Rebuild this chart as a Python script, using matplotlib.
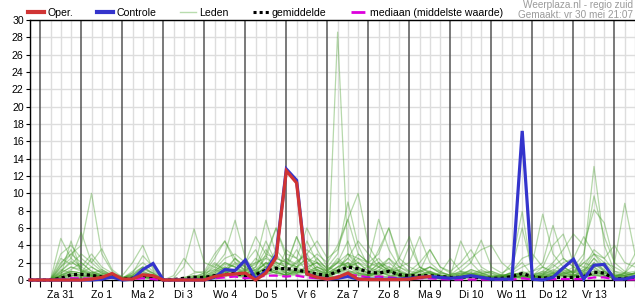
import numpy as np
import matplotlib
matplotlib.use("Agg")
import matplotlib.pyplot as plt
from matplotlib.lines import Line2D
from matplotlib.ticker import MultipleLocator

plt.rcParams["font.family"] = ["Liberation Sans", "DejaVu Sans"]

# 6-hourly steps starting vr 30 mei 18:00 (hours since start)
STEP_H = 6
N_STEPS = 60
hours = np.arange(N_STEPS) * STEP_H

day_labels = ["Za 31", "Zo 1", "Ma 2", "Di 3", "Wo 4", "Do 5", "Vr 6",
              "Za 7", "Zo 8", "Ma 9", "Di 10", "Wo 11", "Do 12", "Vr 13"]

# neerslag (mm per 6 uur), operationele run loopt tot ma 9
oper = [0, 0, 0, 0, 0, 0, 0.1, 0.3, 0.75, 0.1, 0.1, 0.6, 0.5, 0, 0, 0, 0,
        0, 0.4, 0.6, 0.7, 0.8, 0, 0.8, 2.6, 12.6, 11.2, 0.7, 0.3, 0.1,
        0.3, 0.8, 0.1, 0.05, 0.05, 0.05, 0.05, 0.1, 0.3, 0.4]

controle = [0, 0, 0, 0, 0, 0, 0, 0.1, 0.35, 0, 0.1, 1.2, 1.9, 0, 0, 0, 0,
            0, 0.3, 1.2, 1.1, 2.3, 0.1, 1.0, 2.9, 12.8, 11.5, 0.7, 0.3, 0.1,
            0.2, 0.4, 0.1, 0.1, 0.1, 0.1, 0.1, 0.2, 0.3, 0.4, 0.3, 0.2, 0.3,
            0.5, 0.3, 0.1, 0.1, 0.1, 17.2, 0.1, 0.0, 0.3, 1.4, 2.4, 0.1, 1.7,
            1.8, 0.1, 0.1, 0.4]

gemiddelde = [0, 0, 0, 0.2, 0.6, 0.65, 0.55, 0.35, 0.5, 0.1, 0.2, 0.5, 0.3,
              0.0, 0.05, 0.2, 0.3, 0.3, 0.5, 0.6, 0.8, 0.5, 0.6, 1.15, 1.35,
              1.3, 1.2, 0.9, 0.7, 0.5, 1.0, 1.5, 1.3, 0.9, 0.8, 1.0, 0.6, 0.5,
              0.5, 0.5, 0.4, 0.3, 0.3, 0.4, 0.2, 0.2, 0.2, 0.4, 0.75, 0.4, 0.2,
              0.3, 0.3, 0.3, 0.4, 0.9, 0.8, 0.1, 0.2, 0.2]

mediaan = [0, 0, 0, 0.05, 0.2, 0.2, 0.15, 0.1, 0.3, 0.05, 0.1, 0.2, 0.1, 0, 0,
           0, 0, 0.05, 0.2, 0.3, 0.4, 0.2, 0.3, 0.5, 0.5, 0.4, 0.5, 0.3, 0.2,
           0.1, 0.4, 0.6, 0.5, 0.3, 0.4, 0.3, 0.2, 0.1, 0.2, 0.2, 0.1, 0.05,
           0.05, 0.05, 0.05, 0.05, 0.05, 0.05, 0.2, 0.05, 0.05, 0.1, 0.1, 0.1,
           0.1, 0.3, 0.3, 0.05, 0.05, 0.05]

leden = [
    [0, 0, 0, 2.0, 3.0, 4.0, 10.0, 3.0, 1.0, 0.2, 0.5, 1.5, 0.8, 0, 0, 0.2, 0.5, 0.3, 1.0, 2.0, 1.5, 0.8, 1.2, 2.5, 1.8, 1.0, 2.2, 3.0, 1.0, 0.5, 1.5, 2.0, 0.8, 0.3, 1.0, 0.5, 0.2, 0.1, 0.4, 0.3, 0.2, 0.1, 0.5, 0.8, 0.3, 0.2, 0.1, 0.3, 0.5, 0.2, 0.8, 0.5, 1.2, 0.6, 0.3, 0.8, 1.0, 0.2, 0.1, 0.3],
    [0, 0, 0, 4.8, 2.5, 1.5, 0.8, 1.0, 0.4, 0.1, 0.3, 0.8, 0.4, 0, 0, 0, 0.1, 0.5, 1.8, 1.2, 2.5, 1.0, 0.6, 1.5, 3.5, 2.0, 1.2, 0.8, 1.5, 1.0, 2.0, 4.5, 1.2, 0.5, 0.8, 1.5, 0.6, 0.3, 0.2, 0.5, 0.1, 0.3, 0.4, 0.2, 0.6, 0.1, 0.3, 1.0, 2.0, 0.5, 0.3, 0.4, 0.8, 1.5, 0.6, 2.0, 1.2, 0.4, 0.8, 0.5],
    [0, 0, 0, 1.5, 2.5, 5.5, 2.0, 3.6, 1.2, 0.3, 0.2, 0.5, 0.3, 0, 0, 0.1, 0.3, 0.8, 2.5, 4.5, 2.0, 1.5, 2.0, 6.9, 3.0, 1.2, 0.8, 1.5, 2.0, 0.5, 0.3, 1.0, 0.8, 0.5, 1.5, 2.5, 1.0, 0.2, 0.5, 0.8, 0.3, 0.2, 0.1, 0.3, 0.2, 0.1, 0.4, 0.6, 0.3, 0.5, 1.5, 0.8, 0.4, 0.3, 0.5, 1.0, 0.6, 0.1, 0.2, 0.4],
    [0, 0, 0, 3.0, 4.0, 2.5, 1.5, 0.8, 0.6, 0.5, 2.0, 4.0, 1.2, 0.1, 0, 0, 0.2, 0.3, 0.8, 1.5, 1.0, 2.0, 3.5, 1.2, 0.8, 3.5, 2.5, 1.0, 0.5, 0.3, 1.0, 3.0, 2.0, 1.5, 0.5, 0.3, 0.8, 0.5, 1.2, 0.4, 0.2, 0.4, 0.2, 0.5, 1.0, 0.8, 0.3, 0.2, 0.5, 0.3, 0.6, 1.8, 0.9, 0.5, 1.2, 3.0, 1.5, 0.6, 0.3, 0.8],
    [0, 0, 0, 0.5, 1.0, 0.8, 0.5, 0.3, 0.2, 0.1, 0.2, 0.3, 0.1, 0, 0.2, 1.5, 5.9, 2.0, 1.5, 3.0, 6.9, 2.5, 1.0, 2.0, 1.5, 0.8, 1.5, 2.5, 1.2, 0.6, 1.2, 2.5, 1.5, 0.8, 2.0, 1.0, 0.5, 0.3, 0.6, 1.0, 0.4, 0.2, 0.3, 0.8, 0.5, 0.3, 0.2, 0.4, 0.6, 0.4, 0.2, 0.5, 1.5, 0.8, 2.0, 1.5, 0.8, 0.3, 0.5, 0.2],
    [0, 0, 0, 0.8, 1.5, 1.0, 0.5, 0.4, 0.3, 0.1, 0.1, 0.2, 0.1, 0, 0, 0, 0.1, 0.2, 0.5, 0.8, 1.2, 0.5, 0.8, 1.5, 2.0, 1.5, 0.8, 1.0, 0.6, 0.4, 28.6, 3.0, 1.5, 0.6, 1.0, 0.5, 0.3, 0.4, 0.2, 0.3, 0.5, 0.2, 0.4, 0.3, 0.2, 0.1, 0.3, 0.5, 0.2, 0.2, 0.4, 0.3, 0.8, 0.5, 0.3, 0.6, 0.4, 0.2, 0.1, 0.2],
    [0, 0, 0, 1.0, 2.0, 1.5, 3.0, 1.5, 0.8, 0.2, 0.8, 2.8, 1.5, 0, 0, 0.3, 0.5, 0.4, 1.2, 0.8, 2.5, 1.5, 0.5, 3.0, 6.0, 2.5, 1.5, 2.0, 3.0, 2.0, 4.0, 7.0, 10.0, 4.0, 2.0, 1.5, 1.0, 0.6, 1.5, 0.8, 0.5, 0.3, 0.6, 0.4, 0.3, 0.2, 0.5, 0.3, 0.2, 0.6, 1.0, 0.8, 0.5, 0.3, 0.4, 0.6, 0.8, 0.5, 0.2, 0.3],
    [0, 0, 0, 0.5, 0.8, 0.6, 0.4, 0.6, 0.5, 0.2, 0.3, 0.6, 0.3, 0, 0, 0.1, 0.2, 0.5, 1.0, 2.0, 1.5, 0.6, 1.5, 4.5, 2.0, 1.8, 5.0, 2.5, 1.5, 1.0, 2.5, 1.5, 3.0, 2.0, 7.0, 3.5, 1.5, 0.8, 0.5, 1.0, 0.6, 0.3, 0.5, 1.2, 0.8, 0.4, 0.6, 2.0, 7.9, 0.5, 0.3, 0.8, 0.6, 0.4, 1.0, 1.5, 0.5, 0.3, 0.8, 0.4],
    [0, 0, 0, 0.3, 0.6, 0.4, 0.3, 0.5, 0.3, 0.1, 0.2, 0.4, 0.2, 0, 0, 0, 0.1, 0.3, 0.6, 1.5, 0.8, 1.0, 2.5, 1.5, 1.0, 0.5, 1.2, 4.5, 2.0, 1.0, 0.8, 1.5, 2.0, 1.0, 3.5, 6.0, 2.0, 1.0, 0.8, 0.5, 0.3, 0.2, 0.3, 0.5, 0.4, 0.3, 0.5, 0.8, 1.5, 2.0, 7.6, 3.0, 1.5, 0.8, 2.5, 13.1, 4.0, 1.0, 0.5, 0.8],
    [0, 0, 0, 1.2, 0.8, 0.5, 0.6, 0.8, 0.4, 0.1, 0.4, 1.0, 0.5, 0, 0, 0, 0, 0.2, 0.4, 0.6, 0.8, 0.5, 0.4, 1.0, 1.5, 0.8, 0.6, 0.9, 1.2, 0.8, 1.5, 2.0, 1.0, 0.5, 1.2, 0.8, 2.5, 5.0, 1.5, 0.8, 0.6, 0.4, 0.8, 0.6, 0.5, 0.3, 0.2, 0.5, 1.0, 0.6, 0.8, 1.5, 2.5, 1.5, 3.0, 9.7, 5.0, 2.0, 8.85, 3.0],
    [0, 0, 0, 0.6, 1.2, 2.0, 1.0, 0.5, 0.3, 0.1, 0.3, 0.6, 0.4, 0, 0, 0, 0.3, 0.6, 1.5, 1.0, 2.0, 1.0, 2.0, 2.5, 6.0, 3.0, 2.5, 6.0, 3.5, 1.5, 1.0, 2.0, 1.5, 0.8, 0.6, 1.0, 0.5, 0.3, 0.5, 0.3, 0.2, 0.5, 1.0, 0.6, 0.3, 0.2, 0.1, 0.2, 0.4, 0.3, 0.5, 0.6, 1.0, 0.6, 0.8, 2.0, 1.0, 0.4, 0.3, 0.5],
    [0, 0, 0, 2.5, 1.8, 3.0, 2.0, 1.0, 0.6, 0.3, 0.5, 0.8, 0.6, 0, 0, 0, 0.1, 0.3, 0.6, 1.2, 0.8, 1.2, 0.8, 2.0, 1.2, 1.5, 3.5, 1.5, 2.0, 1.5, 3.0, 9.0, 4.0, 1.5, 2.5, 1.2, 1.0, 4.0, 1.5, 1.0, 0.5, 0.3, 0.5, 0.4, 0.6, 1.0, 0.5, 0.3, 0.4, 0.3, 0.6, 1.2, 0.8, 0.5, 0.8, 1.0, 0.6, 0.3, 0.2, 0.4],
    [0, 0, 0, 0.3, 0.5, 0.6, 0.8, 0.5, 0.3, 0.2, 0.6, 1.5, 0.6, 0, 0, 0, 0.2, 0.4, 0.5, 0.8, 1.2, 0.8, 1.2, 1.8, 2.5, 2.0, 1.5, 1.0, 2.5, 1.2, 2.0, 1.5, 2.5, 1.5, 1.0, 2.5, 1.5, 2.0, 5.0, 2.0, 1.0, 0.5, 4.5, 2.0, 0.8, 0.5, 0.3, 0.6, 0.4, 0.3, 0.5, 0.4, 0.6, 1.2, 0.8, 0.5, 0.4, 0.2, 0.5, 0.3],
    [0, 0, 0, 1.8, 3.5, 1.0, 0.8, 1.2, 0.5, 0.2, 0.3, 0.6, 0.3, 0, 0, 0, 0.1, 0.2, 0.5, 0.6, 0.4, 0.6, 1.0, 0.8, 1.2, 0.8, 1.0, 1.5, 0.8, 0.5, 1.0, 1.8, 1.2, 1.5, 2.0, 1.0, 0.8, 0.5, 1.0, 1.5, 0.8, 0.6, 1.0, 2.0, 4.6, 1.5, 0.8, 1.5, 6.0, 1.0, 2.0, 6.3, 2.5, 1.5, 1.0, 2.5, 1.5, 0.5, 0.8, 1.0],
    [0, 0, 0, 0.4, 0.6, 0.3, 0.5, 0.4, 0.2, 0.1, 0.2, 0.3, 0.2, 0, 0, 0, 0, 0.2, 0.3, 0.6, 0.5, 0.4, 0.8, 1.2, 0.8, 0.6, 0.8, 1.0, 1.5, 0.8, 1.2, 1.0, 0.6, 0.4, 0.8, 1.2, 0.6, 0.3, 0.5, 0.4, 0.3, 0.2, 0.3, 0.6, 0.8, 1.0, 0.6, 0.4, 0.8, 0.5, 1.0, 2.0, 3.5, 5.3, 4.0, 8.1, 6.6, 2.0, 1.0, 0.6],
    [0, 0, 0, 1.0, 2.2, 1.2, 0.8, 0.6, 0.4, 0.2, 0.4, 1.0, 0.5, 0, 0, 0.2, 0.8, 1.0, 3.0, 4.5, 2.5, 1.5, 1.0, 2.0, 1.5, 1.0, 2.0, 3.0, 4.5, 2.5, 3.5, 7.0, 3.0, 2.0, 1.5, 0.8, 1.2, 0.6, 0.8, 1.5, 1.0, 0.4, 0.6, 0.8, 0.5, 0.3, 0.5, 0.8, 0.6, 0.4, 0.6, 0.8, 1.5, 0.8, 1.5, 1.2, 0.8, 0.5, 0.6, 0.8],
    [0, 0, 0, 0.5, 1.0, 0.8, 1.5, 0.8, 0.5, 0.3, 0.6, 1.2, 0.8, 0, 0, 0.1, 0.4, 0.8, 1.2, 2.5, 3.0, 2.0, 5.0, 3.0, 2.5, 2.0, 1.5, 2.5, 2.0, 1.0, 2.0, 3.0, 2.5, 2.0, 3.0, 6.0, 2.5, 1.5, 1.0, 1.5, 0.8, 0.6, 0.8, 1.0, 0.6, 0.4, 0.6, 0.5, 0.8, 0.5, 0.3, 0.6, 0.8, 1.0, 0.6, 1.5, 2.0, 0.8, 0.4, 0.6],
    [0, 0, 0, 0.2, 0.4, 0.3, 0.6, 0.4, 0.2, 0.1, 0.2, 0.4, 0.2, 0, 0, 0, 0, 0.1, 0.3, 0.5, 0.8, 0.5, 0.6, 1.0, 0.8, 0.6, 1.0, 0.8, 1.2, 0.6, 1.0, 1.5, 0.8, 0.6, 0.8, 1.0, 1.5, 1.0, 2.0, 3.5, 1.5, 1.0, 2.0, 3.5, 1.5, 0.8, 0.5, 0.8, 0.6, 0.5, 0.8, 1.0, 0.6, 1.0, 2.0, 3.0, 2.5, 4.0, 2.0, 1.5],
    [0, 0, 0, 1.5, 3.0, 2.0, 1.0, 0.6, 0.3, 0.2, 1.0, 2.0, 1.0, 0, 0, 0, 0.2, 0.3, 0.8, 1.8, 1.5, 1.0, 1.5, 3.5, 2.0, 1.5, 5.0, 2.0, 1.0, 0.8, 1.5, 2.5, 4.5, 3.0, 1.5, 2.0, 1.0, 0.5, 1.0, 3.5, 1.5, 0.8, 0.6, 1.2, 0.8, 0.4, 0.3, 0.5, 0.3, 0.2, 0.4, 0.3, 0.5, 0.6, 1.0, 2.5, 1.0, 0.4, 0.6, 0.8],
    [0, 0, 0, 0.8, 1.5, 1.2, 0.6, 0.4, 0.3, 0.1, 0.2, 0.5, 0.3, 0, 0, 0, 0.1, 0.2, 0.4, 0.8, 0.6, 0.4, 0.6, 1.5, 1.0, 0.8, 1.2, 1.0, 0.8, 0.6, 1.0, 0.8, 1.2, 0.8, 1.5, 1.0, 0.6, 0.4, 0.6, 0.8, 0.5, 0.6, 1.5, 2.5, 3.5, 4.0, 2.0, 1.0, 2.5, 3.0, 1.5, 4.0, 5.3, 2.0, 1.5, 3.5, 2.5, 1.0, 0.8, 2.0],
    [0, 0, 0, 0.3, 0.8, 0.5, 0.4, 0.3, 0.2, 0.1, 0.2, 0.3, 0.2, 0, 0, 0, 0, 0.3, 0.6, 1.0, 0.8, 0.6, 0.8, 0.6, 1.0, 0.5, 0.8, 1.2, 0.6, 0.5, 0.8, 0.6, 0.8, 0.5, 0.6, 0.8, 0.5, 0.3, 0.6, 0.5, 0.8, 2.5, 1.0, 0.8, 0.5, 0.3, 0.4, 0.6, 0.8, 1.0, 1.5, 1.0, 2.0, 2.5, 5.0, 3.0, 2.0, 1.5, 0.8, 3.0],
    [0, 0, 0, 0.5, 4.5, 1.0, 0.6, 0.5, 0.3, 0.1, 0.2, 0.4, 0.2, 0, 0, 0, 0.1, 0.3, 0.5, 1.0, 0.6, 0.5, 0.8, 1.2, 0.8, 0.6, 1.0, 0.8, 0.5, 0.4, 0.8, 1.2, 0.6, 0.5, 1.0, 0.6, 0.4, 0.3, 0.4, 0.6, 0.3, 0.2, 0.3, 0.4, 0.3, 0.2, 0.3, 0.5, 0.4, 0.3, 0.4, 0.6, 0.5, 0.4, 0.6, 0.8, 0.5, 0.3, 0.2, 0.4],
    [0, 0, 0, 0.2, 0.3, 0.2, 0.3, 0.5, 0.2, 0.1, 0.3, 0.5, 0.2, 0, 0, 0, 0, 0.2, 0.3, 0.5, 0.4, 0.3, 0.5, 0.8, 0.6, 0.4, 0.6, 0.5, 0.8, 0.3, 0.5, 0.8, 0.5, 0.3, 0.5, 0.4, 0.6, 0.2, 0.4, 0.3, 0.2, 0.1, 0.2, 0.3, 0.2, 0.1, 0.2, 0.3, 0.2, 0.1, 0.3, 0.4, 0.3, 0.5, 0.3, 0.6, 0.4, 0.2, 0.3, 0.2],
    [0, 0, 0, 0.6, 1.0, 0.8, 2.5, 1.2, 0.6, 0.2, 0.8, 1.5, 0.8, 0, 0.5, 2.5, 1.0, 0.8, 2.0, 1.2, 1.8, 1.2, 1.8, 2.8, 1.5, 2.5, 1.8, 3.5, 2.5, 1.2, 2.2, 1.5, 2.0, 1.0, 1.8, 1.2, 0.8, 0.6, 1.0, 0.8, 0.5, 0.4, 0.8, 0.6, 1.2, 0.6, 0.4, 0.8, 0.5, 0.4, 0.6, 0.8, 1.2, 0.8, 1.2, 1.8, 1.0, 0.6, 0.5, 0.8],
]

RED = "#d03434"
BLUE = "#3434cc"
GREEN = "#3f9a22"
MAGENTA = "#dd00dd"

fig = plt.figure(figsize=(6.35, 3.0), dpi=100)
ax = fig.add_axes([30 / 635, 20 / 300, 605 / 635, 260 / 300])

for lid in leden:
    ax.plot(hours[:len(lid)], lid, color=GREEN, lw=0.9, alpha=0.38, zorder=3)

ax.plot(hours[:len(gemiddelde)], gemiddelde, color="black", lw=2.3,
        linestyle=(0, (1, 1)), zorder=4, clip_on=False)
ax.plot(hours[:len(mediaan)], mediaan, color=MAGENTA, lw=1.6,
        linestyle=(0, (4, 2)), zorder=4, clip_on=False)
ax.plot(hours[:len(controle)], controle, color=BLUE, lw=2.3, zorder=5,
        clip_on=False, solid_joinstyle="miter")
ax.plot(hours[:len(oper)], oper, color=RED, lw=2.3, zorder=6,
        clip_on=False, solid_joinstyle="miter")

ax.set_xlim(0, hours[-1])
ax.set_ylim(0, 30)

# grid: licht om de 6 uur, donker om middernacht
for h in hours:
    midnight = (h % 24) == 6
    ax.axvline(h, color="#555555" if midnight else "#dddddd",
               lw=1.1 if midnight else 1.0, zorder=2 if midnight else 1)
ax.yaxis.set_major_locator(MultipleLocator(2))
ax.grid(axis="y", color="#dddddd", lw=1.0, zorder=1)
ax.set_axisbelow(True)

label_pos = 18 + 24 * np.arange(len(day_labels))
ax.set_xticks(label_pos)
ax.set_xticklabels(day_labels)
ax.set_xticks(hours, minor=True)
ax.tick_params(axis="x", which="both", length=5, width=0.8, color="black",
               labelsize=7.6, pad=2)
ax.tick_params(axis="y", length=3, width=0.8, labelsize=7.6, pad=1.5)

for side in ("top", "bottom", "left"):
    ax.spines[side].set_color("black")
    ax.spines[side].set_linewidth(1.0)
ax.spines["right"].set_visible(False)

handles = [
    Line2D([], [], color=RED, lw=3),
    Line2D([], [], color=BLUE, lw=3),
    Line2D([], [], color="#b8dcae", lw=1),
    Line2D([], [], color="black", lw=2.2, linestyle=(0, (1, 1))),
    Line2D([], [], color=MAGENTA, lw=2, linestyle=(0, (5, 1.5, 0.5, 1.5))),
]
labels = ["Oper.", "Controle", "Leden", "gemiddelde", "mediaan (middelste waarde)"]
fig.legend(handles, labels, ncol=5, loc="center left",
           bbox_to_anchor=(28 / 635, 1 - 13 / 300), frameon=False,
           handlelength=1.5, handletextpad=0.3, columnspacing=2.3,
           borderpad=0, borderaxespad=0, fontsize=7.6)

fig.text(0.997, 1 - 5 / 300, "Weerplaza.nl - regio zuid", ha="right",
         va="center", fontsize=7.2, color="#9a9a9a")
fig.text(0.997, 1 - 15 / 300, "Gemaakt: vr 30 mei 21:07", ha="right",
         va="center", fontsize=7.2, color="#9a9a9a")

fig.savefig("out.png", dpi=100)
